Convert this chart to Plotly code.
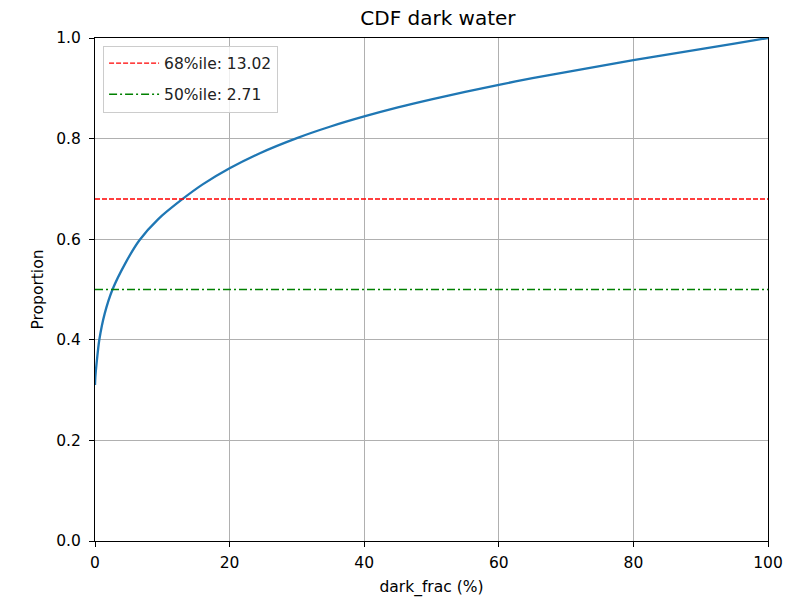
import plotly.graph_objects as go

# CDF curve
cdf_x = [0, 0.05, 0.25, 0.64, 1.44, 2.6, 4.5, 6.6, 9.4, 13.02, 16, 20, 24.5, 30, 35, 40, 45, 50, 55, 60, 65, 70, 75, 80, 85, 90, 95, 100]
cdf_y = [0.31, 0.325, 0.355, 0.40, 0.452, 0.50, 0.552, 0.598, 0.640, 0.68, 0.709, 0.741, 0.771, 0.801, 0.824, 0.844, 0.862, 0.878, 0.893, 0.907, 0.920, 0.932, 0.944, 0.956, 0.967, 0.978, 0.989, 1.0]

p68_value, p68_prop = 13.02, 0.68
p50_value, p50_prop = 2.71, 0.50
x_range = [0, 100]

font = "DejaVu Sans, Liberation Sans, sans-serif"
fs = 15.5

fig = go.Figure()
fig.add_trace(go.Scatter(x=cdf_x, y=cdf_y, mode="lines",
                         line=dict(color="#1f77b4", width=2.3, shape="spline", smoothing=0.7),
                         showlegend=False, hoverinfo="skip"))
fig.add_trace(go.Scatter(x=x_range, y=[p68_prop, p68_prop], mode="lines",
                         line=dict(color="#ff0000", width=1.4, dash="5px,2px"),
                         name=f"68%ile: {p68_value:.2f}", legendgroup="a"))
fig.add_trace(go.Scatter(x=x_range, y=[p50_prop, p50_prop], mode="lines",
                         line=dict(color="#008000", width=1.4, dash="8px,3px,2px,3px"),
                         name=f"50%ile: {p50_value:.2f}", legendgroup="b"))

axis_common = dict(showline=True, linecolor="black", linewidth=1.2, mirror=True,
                   ticks="outside", ticklen=5, tickwidth=1, tickcolor="black",
                   showgrid=True, gridcolor="#b0b0b0", gridwidth=0.9, zeroline=False,
                   automargin=False,
                   tickfont=dict(family=font, size=fs, color="black"))

fig.update_layout(
    width=808, height=601,
    margin=dict(l=95, r=40, t=38, b=60),
    paper_bgcolor="white", plot_bgcolor="white",
    title=dict(text="CDF dark water", x=0.542, xanchor="center", y=0.97, yanchor="middle",
               font=dict(family=font, size=20, color="black")),
    font=dict(family=font, color="black"),
    xaxis=dict(range=x_range, tickvals=[0, 20, 40, 60, 80, 100], ticklabelstandoff=2,
               title=dict(text="dark_frac (%)", font=dict(family=font, size=fs, color="black"), standoff=10),
               **axis_common),
    yaxis=dict(range=[0, 1], tickvals=[0, 0.2, 0.4, 0.6, 0.8, 1.0], tickformat=".1f", ticklabelstandoff=5,
               title=dict(text="Proportion", font=dict(family=font, size=fs, color="black"), standoff=8),
               **axis_common),
    legend=dict(x=0.012, y=0.985, xanchor="left", yanchor="top", traceorder="grouped",
                bgcolor="rgba(255,255,255,0.8)", bordercolor="#cccccc", borderwidth=1,
                itemwidth=50,
                font=dict(family=font, size=fs, color="#222222"), tracegroupgap=8),
)

fig.write_html("out.html")
